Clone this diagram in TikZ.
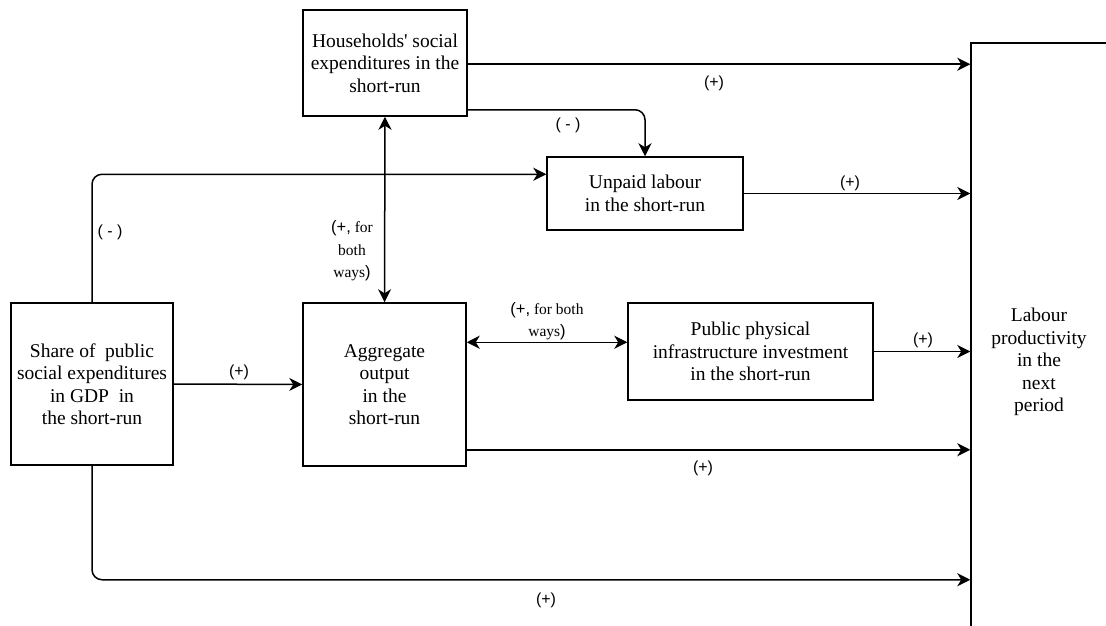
\documentclass[tikz,border=0pt]{standalone}
\usepackage{fontspec}
\setmainfont{Liberation Serif}
\setsansfont{Liberation Sans}
\newfontfamily\plainserif{Liberation Serif}
\usetikzlibrary{arrows.meta,calc}
\newcommand{\sfp}[1]{{\sffamily\fontsize{16.5}{22}\selectfont #1}}
\begin{document}
\begin{tikzpicture}[x=1pt,y=-1pt,
  box/.style={draw, line width=1.5pt, inner sep=0pt, align=center, font=\fontsize{19.5}{22.5}\selectfont},
  tip/.tip={Stealth[length=13pt,width=13pt,inset=4pt]},
  arr/.style={line width=1.5pt, -tip},
  barr/.style={line width=1.5pt, tip-tip},
  lab/.style={font=\sffamily\fontsize{16}{19}\selectfont, inner sep=0pt},
  slab/.style={font=\fontsize{15.5}{22.5}\selectfont, align=center, inner sep=0pt}]
\clip (0,0) rectangle (1106,626);
\fill[white] (0,0) rectangle (1106,626);
% boxes
\node[box, minimum width=164pt, minimum height=106pt] (hh) at (385,63) {Households{\plainserif '} social\\expenditures in the\\short-run};
\node[box, minimum width=196pt, minimum height=73pt] (un) at (645,193.5) {Unpaid labour\\in the short-run};
\node[box, minimum width=162pt, minimum height=162pt] (sh) at (92,384) {Share of~ public\\social expenditures\\in GDP~ in\\the short-run};
\node[box, minimum width=163pt, minimum height=163pt] (agg) at (384.5,384.5) {Aggregate\\output\\in the\\short-run};
\node[box, minimum width=245pt, minimum height=97pt] (pub) at (750.5,351.5) {Public physical\\infrastructure investment\\in the short-run};
\node[box, minimum width=136pt, minimum height=638pt] (lp) at (1039,362) {Labour\\productivity\\in the\\next\\period};
% helper coordinates
\coordinate (h1) at ([yshift=-55pt]hh.north east);
\coordinate (h2) at ([yshift=7pt]hh.south east);
\coordinate (u1) at ([yshift=-18pt]un.north west);
\coordinate (a1) at ([yshift=-40pt]agg.north east);
\coordinate (a2) at ([yshift=17pt]agg.south east);
\coordinate (b1) at ([yshift=-114pt]sh.south);
% connectors
\draw[arr] (h1) -- (h1 -| lp.west);
\draw[arr, rounded corners=10pt] (h2) -| (un.north);
\draw[arr, rounded corners=10pt] (sh.north) |- (u1);
\draw[arr] (un.east) -- (un.east -| lp.west);
\draw[barr] (hh.south) -- (agg.north);
\draw[arr] (sh.east) -- (agg.west);
\draw[barr] (a1) -- (a1 -| pub.west);
\draw[arr] (pub.east) -- (pub.east -| lp.west);
\draw[arr] (a2) -- (a2 -| lp.west);
\draw[arr, rounded corners=10pt] (sh.south) -- (b1) -- (b1 -| lp.west);
% labels
\node[lab] (l1) at (714,83) {(+)};
\node[lab] (l2) at (568,125) {( - )};
\node[lab] (l3) at (850,183) {(+)};
\node[lab] (l4) at (110,232) {( - )};
\node[slab] (l5) at (352,251) {\sfp{(+,} for\\both\\ways\sfp{)}};
\node[slab] (l6) at (547,321) {\sfp{(+,} for both\\ways\sfp{)}};
\node[lab] (l7) at (923,340) {(+)};
\node[lab] (l8) at (239,372) {(+)};
\node[lab] (l9) at (703,468) {(+)};
\node[lab] (l10) at (546,600) {(+)};
\end{tikzpicture}
\end{document}
